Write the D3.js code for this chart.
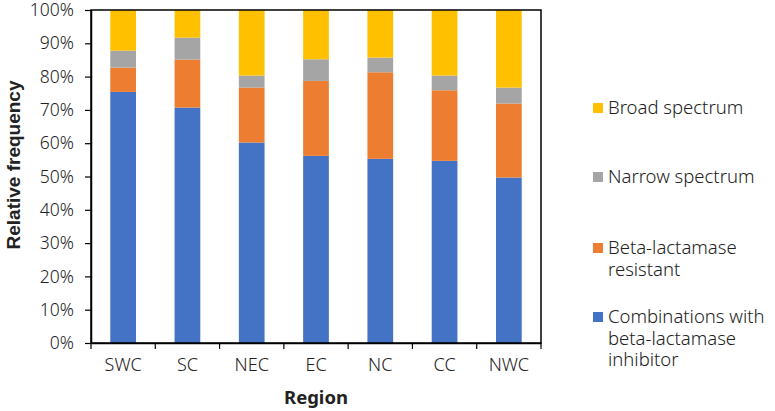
<!DOCTYPE html>
<html><head><meta charset="utf-8">
<script src="https://cdn.jsdelivr.net/npm/d3@7"></script>
<style>
body{margin:0;background:#fff;}
svg text{font-family:"Noto Sans","DejaVu Sans",sans-serif;fill:#222;}
</style></head>
<body><svg id="c" width="775" height="411"></svg>
<script>
const regions = ["SWC","SC","NEC","EC","NC","CC","NWC"];
const seriesNames = ["Combinations with beta-lactamase inhibitor","Beta-lactamase resistant","Narrow spectrum","Broad spectrum"];
const combos   = [75.4, 70.7, 60.2, 56.2, 55.3, 54.7, 49.7];
const resist   = [7.3, 14.4, 16.5, 22.5, 26.0, 21.2, 22.2];
const narrow   = [5.1, 6.6, 3.6, 6.5, 4.4, 4.4, 4.8];
const broad    = [12.2, 8.3, 19.7, 14.8, 14.3, 19.7, 23.3];
const colors   = ["#4472C4","#ED7D31","#A5A5A5","#FFC000"];
const yTicks   = [0,10,20,30,40,50,60,70,80,90,100];

const svg = d3.select("#c");
const m = {l:91, r:541, t:10, b:343};
const x = d3.scaleBand().domain(regions).range([m.l, m.r]).paddingInner(0.6).paddingOuter(0.3);
const y = d3.scaleLinear().domain([0,100]).range([m.b, m.t]);

const rows = regions.map((r,i)=>({region:r, s0:combos[i], s1:resist[i], s2:narrow[i], s3:broad[i]}));
const stack = d3.stack().keys(["s0","s1","s2","s3"])(rows);

svg.append("g").selectAll("g").data(stack).join("g")
  .attr("fill",(d,i)=>colors[i])
  .selectAll("rect").data(d=>d).join("rect")
  .attr("x",d=>x(d.data.region))
  .attr("width",x.bandwidth())
  .attr("y",d=>y(d[1]))
  .attr("height",d=>y(d[0])-y(d[1]));

// frame
svg.append("rect").attr("x",m.l).attr("y",m.t).attr("width",m.r-m.l).attr("height",m.b-m.t)
  .attr("fill","none").attr("stroke","#000").attr("stroke-width",1.5);

// y axis
const ya = svg.append("g").attr("transform",`translate(${m.l},0)`)
  .call(d3.axisLeft(y).tickValues(yTicks).tickFormat(d=>d+"%").tickSize(6).tickSizeOuter(0));
ya.select(".domain").attr("stroke","#000").attr("stroke-width",1.5);
ya.selectAll(".tick line").attr("stroke","#000").attr("stroke-width",1.2);
ya.selectAll("text").attr("font-size","17.5px").attr("fill","#333").attr("x",-17)
  .style("font-weight","300");

// x axis with boundary ticks
const xa = svg.append("g").attr("transform",`translate(0,${m.b})`)
  .call(d3.axisBottom(x).tickSize(0).tickPadding(15));
xa.select(".domain").attr("stroke","#000").attr("stroke-width",1.5);
xa.selectAll("text").attr("font-size","18px").attr("fill","#333").style("font-weight","300");
const bounds = d3.range(regions.length+1).map(i=>m.l + i*(m.r-m.l)/regions.length);
svg.append("g").selectAll("line").data(bounds).join("line")
  .attr("x1",d=>d).attr("x2",d=>d).attr("y1",m.b).attr("y2",m.b+6)
  .attr("stroke","#000").attr("stroke-width",1.2);

// axis titles
svg.append("text").attr("x",316).attr("y",404).attr("text-anchor","middle")
  .attr("font-size","18.5px").attr("font-weight","bold").attr("fill","#111").text("Region");
svg.append("text").attr("transform",`translate(20,165) rotate(-90)`)
  .attr("text-anchor","middle").attr("font-size","19px").attr("font-weight","bold").attr("fill","#111")
  .style("font-family",'"Liberation Sans",Arial,sans-serif').text("Relative frequency");

// legend
const legend = [
  {name:seriesNames[3], lines:["Broad spectrum"], c:colors[3], y:108},
  {name:seriesNames[2], lines:["Narrow spectrum"], c:colors[2], y:177},
  {name:seriesNames[1], lines:["Beta-lactamase","resistant"], c:colors[1], y:248},
  {name:seriesNames[0], lines:["Combinations with","beta-lactamase","inhibitor"], c:colors[0], y:317}
];
const lg = svg.append("g").selectAll("g").data(legend).join("g");
lg.append("rect").attr("x",593).attr("y",d=>d.y-5).attr("width",10).attr("height",10).attr("fill",d=>d.c);
lg.append("text").attr("x",608).attr("y",d=>d.y).attr("font-size","18.5px").attr("fill","#222")
  .style("font-weight","300")
  .selectAll("tspan").data(d=>d.lines).join("tspan")
  .attr("x",608).attr("dy",(d,i)=>i===0?"0.35em":"21.5px").text(d=>d);
</script></body></html>
